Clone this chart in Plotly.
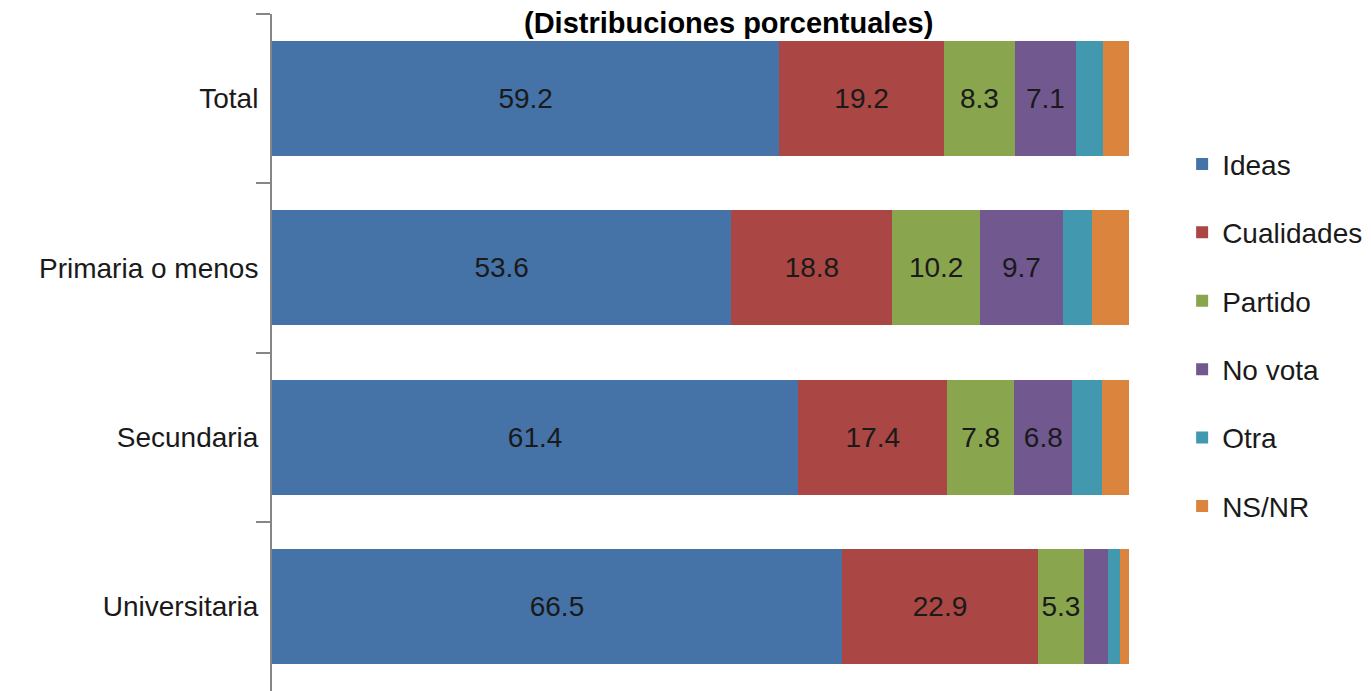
import plotly.graph_objects as go

categories = ["Total", "Primaria o menos", "Secundaria", "Universitaria"]
series_names = ["Ideas", "Cualidades", "Partido", "No vota", "Otra", "NS/NR"]
ideas = [59.2, 53.6, 61.4, 66.5]
cualidades = [19.2, 18.8, 17.4, 22.9]
partido = [8.3, 10.2, 7.8, 5.3]
no_vota = [7.1, 9.7, 6.8, 2.8]
otra = [3.2, 3.4, 3.4, 1.4]
ns_nr = [3.0, 4.3, 3.2, 1.1]
title_text = "(Distribuciones porcentuales)"

colors = ["#4572A7", "#AA4643", "#89A54E", "#71588F", "#4198AF", "#DB843D"]
values = [ideas, cualidades, partido, no_vota, otra, ns_nr]
FONT = "Liberation Sans, Arial, sans-serif"

fig = go.Figure()
for name, vals, col in zip(series_names, values, colors):
    # only segments wide enough carry a value label, as in the original
    labels = [f"{v:.1f}" if v >= 5 else "" for v in vals]
    fig.add_trace(go.Bar(
        y=categories, x=vals, name=name, orientation="h",
        marker={"color": col, "line": {"width": 0}},
        text=labels, textposition="inside", insidetextanchor="middle",
        textfont={"family": FONT, "size": 28, "color": "#1a1a1a"},
        constraintext="none", legendgroup=name,
    ))

fig.update_layout(
    barmode="stack", bargap=0.32,
    width=1371, height=691,
    margin={"l": 264, "r": 250, "t": 6, "b": 8},
    paper_bgcolor="white", plot_bgcolor="white",
    font={"family": FONT, "size": 28, "color": "#1a1a1a"},
    showlegend=True,
    legend={"x": 1.062, "y": 0.815, "xanchor": "left", "yanchor": "top",
            "traceorder": "grouped", "tracegroupgap": 29,
            "font": {"family": FONT, "size": 28, "color": "#1a1a1a"},
            "bgcolor": "rgba(0,0,0,0)"},
    xaxis={"range": [0, 100], "visible": False, "showgrid": False},
    yaxis={"autorange": "reversed", "showline": True, "linecolor": "#868686",
           "linewidth": 2, "ticks": "outside", "tickson": "boundaries",
           "ticklen": 14, "tickcolor": "#868686", "tickwidth": 2,
           "ticklabelstandoff": 6, "showgrid": False,
           "tickfont": {"family": FONT, "size": 28, "color": "#1a1a1a"}},
    annotations=[{"text": f"<b>{title_text}</b>", "xref": "paper", "yref": "paper",
                  "x": (720 - 264) / 857, "y": 1 + (6 - 15) / 677,
                  "xanchor": "center", "yanchor": "middle", "showarrow": False,
                  "borderpad": 0,
                  "font": {"family": FONT, "size": 29, "color": "#000000"}}],
)

fig.write_html("out.html")
